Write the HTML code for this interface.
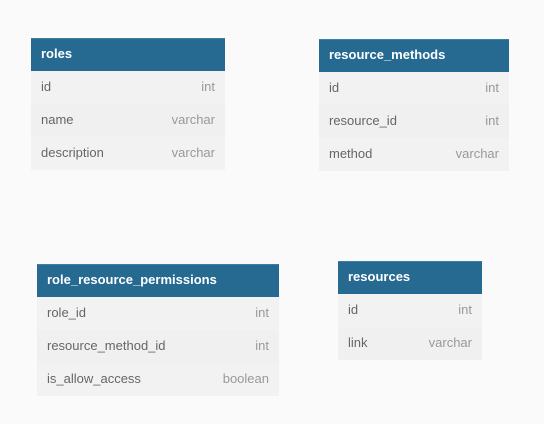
<!DOCTYPE html>
<html><head><style>
body{margin:0;width:544px;height:424px;background:#fafafa;font-family:"Liberation Sans",sans-serif;position:relative;overflow:hidden}
.t{position:absolute;background:#f2f2f2}
.h{height:33px;background:#266991;color:#fff;font-weight:bold;font-size:13px;line-height:30px;padding-left:10px;box-sizing:border-box;border-top:1px solid #3a7fa6}
.r{height:33px;line-height:31px;font-size:13px;color:#666;padding:0 10px;display:flex;justify-content:space-between}
.r span{color:#999}
.r:nth-child(odd){background:#f0f0f0}
</style></head><body>
<div class="t" style="left:31px;top:38px;width:194px">
<div class="h">roles</div>
<div class="r">id<span>int</span></div>
<div class="r">name<span>varchar</span></div>
<div class="r">description<span>varchar</span></div>
</div>
<div class="t" style="left:319px;top:39px;width:190px">
<div class="h">resource_methods</div>
<div class="r">id<span>int</span></div>
<div class="r">resource_id<span>int</span></div>
<div class="r">method<span>varchar</span></div>
</div>
<div class="t" style="left:37px;top:264px;width:242px">
<div class="h">role_resource_permissions</div>
<div class="r">role_id<span>int</span></div>
<div class="r">resource_method_id<span>int</span></div>
<div class="r">is_allow_access<span>boolean</span></div>
</div>
<div class="t" style="left:338px;top:261px;width:144px">
<div class="h">resources</div>
<div class="r">id<span>int</span></div>
<div class="r">link<span>varchar</span></div>
</div>
</body></html>
